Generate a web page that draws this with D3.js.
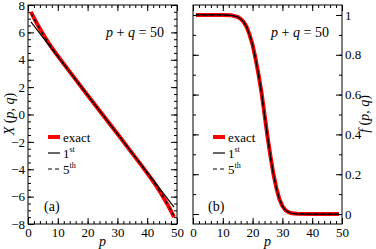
<!DOCTYPE html>
<html>
<head>
<meta charset="utf-8">
<script src="https://cdn.jsdelivr.net/npm/d3@7"></script>
<style>
  body { margin: 0; background: #fff; }
</style>
</head>
<body>
<svg id="chart" width="376" height="249"></svg>
<script>
// panel (a): X(p, q) for p + q = 50
var pExact = [1, 2, 3, 4, 5, 6, 7, 8, 10, 12, 15, 20, 25, 30, 35, 38, 40, 42, 43, 44, 45, 46, 47, 48, 49];
var xExact = [7.5, 7.05, 6.65, 6.27, 5.9, 5.54, 5.2, 4.88, 4.28, 3.7, 2.84, 1.41, 0,
              -1.41, -2.84, -3.7, -4.28, -4.88, -5.2, -5.54, -5.9, -6.27, -6.65, -7.05, -7.5];
var pFirst = [1, 5, 10, 15, 20, 25, 30, 35, 40, 45, 49];
var xFirst = [6.77, 5.64, 4.23, 2.82, 1.41, 0, -1.41, -2.82, -4.23, -5.64, -6.77];
var pFifth = [1, 2, 3, 4, 5, 6, 8, 10, 15, 20, 25, 30, 35, 40, 42, 44, 45, 46, 47, 48, 49];
var xFifth = [7.42, 7.0, 6.62, 6.25, 5.89, 5.53, 4.88, 4.28, 2.84, 1.41, 0,
              -1.41, -2.84, -4.28, -4.88, -5.53, -5.89, -6.25, -6.62, -7.0, -7.42];

// panel (b): f(p, q) for p + q = 50
var pF = [1, 5, 10, 13, 15, 16, 17, 18, 19, 20, 21, 22, 23, 24, 25, 26, 27, 28, 29, 30, 31, 32, 33, 35, 40, 45, 49];
var fExact = [1, 1, 1, 0.998, 0.99, 0.98, 0.965, 0.94, 0.9, 0.85, 0.78, 0.7, 0.61, 0.5,
              0.39, 0.29, 0.2, 0.13, 0.075, 0.04, 0.02, 0.01, 0.004, 0.001, 0, 0, 0];

var xTicks = [0, 10, 20, 30, 40, 50];
var xMinorTicks = [0, 2, 4, 6, 8, 10, 12, 14, 16, 18, 20, 22, 24, 26, 28, 30, 32, 34, 36, 38, 40, 42, 44, 46, 48, 50];
var yTicksA = [-8, -6, -4, -2, 0, 2, 4, 6, 8];
var yMinorA = [-8, -7.5, -7, -6.5, -6, -5.5, -5, -4.5, -4, -3.5, -3, -2.5, -2, -1.5, -1, -0.5,
               0, 0.5, 1, 1.5, 2, 2.5, 3, 3.5, 4, 4.5, 5, 5.5, 6, 6.5, 7, 7.5, 8];
var yTicksB = [0, 0.2, 0.4, 0.6, 0.8, 1];
var yMinorB = [0, 0.1, 0.2, 0.3, 0.4, 0.5, 0.6, 0.7, 0.8, 0.9, 1];

var SERIF = "'Liberation Serif', 'Times New Roman', serif";
var svg = d3.select("#chart").style("font-family", SERIF);
var plotTop = 5, plotBottom = 224;

// strip the axis line and force the serif face onto the tick labels
function tidy(s) {
  s.select(".domain").remove();
  s.style("font-family", SERIF).style("font-size", "13px");
  s.selectAll("line").attr("stroke", "#000");
  s.selectAll("text").attr("fill", "#000");
}

function panel(left, right, yDomain, yMajor, yMinor, fmt, labelSide) {
  var g = svg.append("g");
  var x = d3.scaleLinear().domain([0, 50]).range([left, right]);
  var y = d3.scaleLinear().domain(yDomain).range([plotBottom, plotTop]);

  g.append("rect")
    .attr("x", left).attr("y", plotTop)
    .attr("width", right - left).attr("height", plotBottom - plotTop)
    .attr("fill", "none").attr("stroke", "#000");

  // ticks point inward on all four sides
  g.append("g").attr("transform", "translate(0," + plotBottom + ")")
    .call(d3.axisBottom(x).tickValues(xTicks).tickSize(-6).tickPadding(4).tickFormat(d3.format("d")))
    .call(tidy);
  g.append("g").attr("transform", "translate(0," + plotBottom + ")")
    .call(d3.axisBottom(x).tickValues(xMinorTicks).tickSize(-3).tickFormat(""))
    .call(tidy);
  g.append("g").attr("transform", "translate(0," + plotTop + ")")
    .call(d3.axisTop(x).tickValues(xTicks).tickSize(-6).tickFormat(""))
    .call(tidy);
  g.append("g").attr("transform", "translate(0," + plotTop + ")")
    .call(d3.axisTop(x).tickValues(xMinorTicks).tickSize(-3).tickFormat(""))
    .call(tidy);

  g.append("g").attr("transform", "translate(" + left + ",0)")
    .call(d3.axisLeft(y).tickValues(yMajor).tickSize(-6).tickPadding(3)
      .tickFormat(labelSide === "left" ? fmt : ""))
    .call(tidy);
  g.append("g").attr("transform", "translate(" + left + ",0)")
    .call(d3.axisLeft(y).tickValues(yMinor).tickSize(-3).tickFormat(""))
    .call(tidy);
  g.append("g").attr("transform", "translate(" + right + ",0)")
    .call(d3.axisRight(y).tickValues(yMajor).tickSize(-6).tickPadding(3)
      .tickFormat(labelSide === "right" ? fmt : ""))
    .call(tidy);
  g.append("g").attr("transform", "translate(" + right + ",0)")
    .call(d3.axisRight(y).tickValues(yMinor).tickSize(-3).tickFormat(""))
    .call(tidy);

  return { g: g, x: x, y: y };
}

function drawLine(p, xs, ys, color, width, dash) {
  var line = d3.line()
    .x(function(d, i) { return p.x(xs[i]); })
    .y(function(d) { return p.y(d); });
  p.g.append("path")
    .datum(ys)
    .attr("d", line)
    .attr("fill", "none")
    .attr("stroke", color)
    .attr("stroke-width", width)
    .attr("stroke-dasharray", dash || null)
    .attr("stroke-linejoin", "round");
}

function legend(p, lx, ly) {
  var items = [
    { label: "exact", sup: "", color: "#ff0000", w: 4, dash: null },
    { label: "1", sup: "st", color: "#000", w: 1.2, dash: null },
    { label: "5", sup: "th", color: "#000", w: 1.2, dash: "4,3" }
  ];
  items.forEach(function(it, i) {
    var yy = ly + i * 16;
    p.g.append("line")
      .attr("x1", lx).attr("x2", lx + 12)
      .attr("y1", yy).attr("y2", yy)
      .attr("stroke", it.color).attr("stroke-width", it.w)
      .attr("stroke-dasharray", it.dash);
    var t = p.g.append("text")
      .attr("x", lx + 15).attr("y", yy + 4.5)
      .style("font-family", SERIF).style("font-size", "13px");
    t.append("tspan").text(it.label);
    if (it.sup) t.append("tspan").attr("dy", -6).style("font-size", "8px").text(it.sup);
  });
}

function sumLabel(p, cx, cy) {
  var t = p.g.append("text").attr("x", cx).attr("y", cy)
    .attr("text-anchor", "middle")
    .style("font-family", SERIF).style("font-size", "14px");
  t.append("tspan").style("font-style", "italic").text("p");
  t.append("tspan").text(" + ");
  t.append("tspan").style("font-style", "italic").text("q");
  t.append("tspan").text(" = 50");
}

function yLabel(fn, cx, cy) {
  var t = svg.append("text")
    .attr("transform", "translate(" + cx + "," + cy + ") rotate(-90)")
    .attr("text-anchor", "middle")
    .style("font-family", SERIF).style("font-size", "14px");
  t.append("tspan").style("font-style", "italic").text(fn);
  t.append("tspan").text(" (");
  t.append("tspan").style("font-style", "italic").text("p");
  t.append("tspan").text(", ");
  t.append("tspan").style("font-style", "italic").text("q");
  t.append("tspan").text(")");
}

function plainText(p, x, y, s, italic) {
  return p.g.append("text").attr("x", x).attr("y", y)
    .style("font-family", SERIF).style("font-size", "14px")
    .style("font-style", italic ? "italic" : null)
    .text(s);
}

var fmtA = d3.format("d");
var fmtB = function(d) { return d === 0 || d === 1 ? String(d) : d3.format(".1f")(d); };

// panel (a)
var a = panel(28, 177, [-8, 8], yTicksA, yMinorA, fmtA, "left");
drawLine(a, pExact, xExact, "#ff0000", 4);
drawLine(a, pFirst, xFirst, "#000", 1.2);
drawLine(a, pFifth, xFifth, "#000", 1.2, "4,3");
legend(a, 48, 137);
sumLabel(a, 135, 37);
plainText(a, 44, 211, "(a)");
plainText(a, a.x(25), 246, "p", true).attr("text-anchor", "middle");
yLabel("X", 14, 114);

// panel (b)
var b = panel(193, 342, [-0.05, 1.05], yTicksB, yMinorB, fmtB, "right");
drawLine(b, pF, fExact, "#ff0000", 4);
drawLine(b, pF, fExact, "#000", 1.2);
drawLine(b, pF, fExact, "#000", 1.2, "4,3");
legend(b, 213, 137);
sumLabel(b, 300, 37);
plainText(b, 208, 211, "(b)");
plainText(b, b.x(25), 246, "p", true).attr("text-anchor", "middle");
yLabel("f", 369, 114);
</script>
</body>
</html>
